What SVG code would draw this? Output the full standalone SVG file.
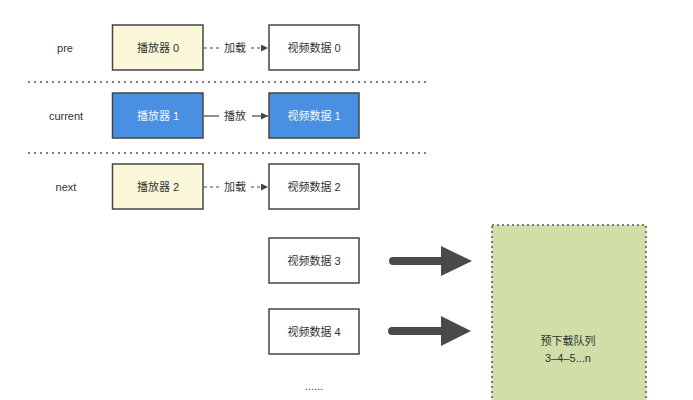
<svg xmlns="http://www.w3.org/2000/svg" width="693" height="400" viewBox="0 0 693 400">
<defs>
<style>
text{font-family:"Liberation Sans","Noto Sans CJK SC",sans-serif;font-size:11px;fill:#333;text-anchor:middle;dominant-baseline:central}
.box{stroke:#444;stroke-width:1.5}
.y{fill:#fbf7d9}
.b{fill:#4a90e2}
.w{fill:#fff}
.bt{fill:#f4f8fd}
.sep{stroke:#555;stroke-width:1.5;stroke-dasharray:2 4;fill:none}
.dash{stroke:#444;stroke-width:1.2;stroke-dasharray:3 3;fill:none}
.solid{stroke:#444;stroke-width:1.2;fill:none}
.big{stroke:#4a4a4a;stroke-width:8;stroke-linecap:round;fill:none}
</style>
<marker id="ah" viewBox="0 0 10 10" refX="10" refY="5" markerWidth="7" markerHeight="7" markerUnits="userSpaceOnUse" orient="auto"><path d="M0,0L10,5L0,10z" fill="#444"/></marker>
</defs>
<rect width="693" height="400" fill="#fff"/>
<g id="labels">
<text x="65" y="48">pre</text>
<text x="66" y="116">current</text>
<text x="66" y="187">next</text>
</g>
<g id="separators">
<line class="sep" x1="28" y1="82" x2="428" y2="82"/>
<line class="sep" x1="28" y1="153" x2="428" y2="153"/>
</g>
<g id="player0"><rect class="box y" x="112.5" y="25" width="90.5" height="45"/><text x="158" y="48">播放器 0</text></g>
<g id="player1"><rect class="box b" x="112.5" y="93" width="90.5" height="45"/><text class="bt" x="158" y="116">播放器 1</text></g>
<g id="player2"><rect class="box y" x="112.5" y="164" width="90.5" height="45"/><text x="158" y="187">播放器 2</text></g>
<g id="video0"><rect class="box w" x="269" y="25" width="90" height="45"/><text x="314" y="48">视频数据 0</text></g>
<g id="video1"><rect class="box b" x="269" y="93" width="90" height="45"/><text class="bt" x="314" y="116">视频数据 1</text></g>
<g id="video2"><rect class="box w" x="269" y="164" width="90" height="45"/><text x="314" y="187">视频数据 2</text></g>
<g id="video3"><rect class="box w" x="269" y="238" width="90" height="45"/><text x="314" y="261">视频数据 3</text></g>
<g id="video4"><rect class="box w" x="269" y="309" width="90" height="45"/><text x="314" y="332">视频数据 4</text></g>
<g id="more"><text x="314" y="386">......</text></g>
<g id="queue">
<rect x="492" y="225" width="154" height="185" fill="#cfdfa7" stroke="#555" stroke-width="1.5" stroke-dasharray="2 3"/>
<text x="568" y="341">预下载队列</text>
<text x="568" y="358">3–4–5...n</text>
</g>
<g id="connectors">
<line class="dash" x1="204" y1="48" x2="219" y2="48"/>
<text x="235" y="48">加载</text>
<line class="dash" x1="251" y1="48" x2="268" y2="48" marker-end="url(#ah)"/>
<line class="solid" x1="204" y1="116" x2="219" y2="116"/>
<text x="235" y="116">播放</text>
<line class="solid" x1="252" y1="116" x2="268" y2="116" marker-end="url(#ah)"/>
<line class="dash" x1="204" y1="187" x2="219" y2="187"/>
<text x="235" y="187">加载</text>
<line class="dash" x1="251" y1="187" x2="268" y2="187" marker-end="url(#ah)"/>
<line class="big" x1="393" y1="261" x2="443" y2="261"/>
<path d="M441,246L472,261L441,276z" fill="#4a4a4a"/>
<line class="big" x1="392" y1="331" x2="443" y2="331"/>
<path d="M441,316L471,331L441,346z" fill="#4a4a4a"/>
</g>
</svg>
